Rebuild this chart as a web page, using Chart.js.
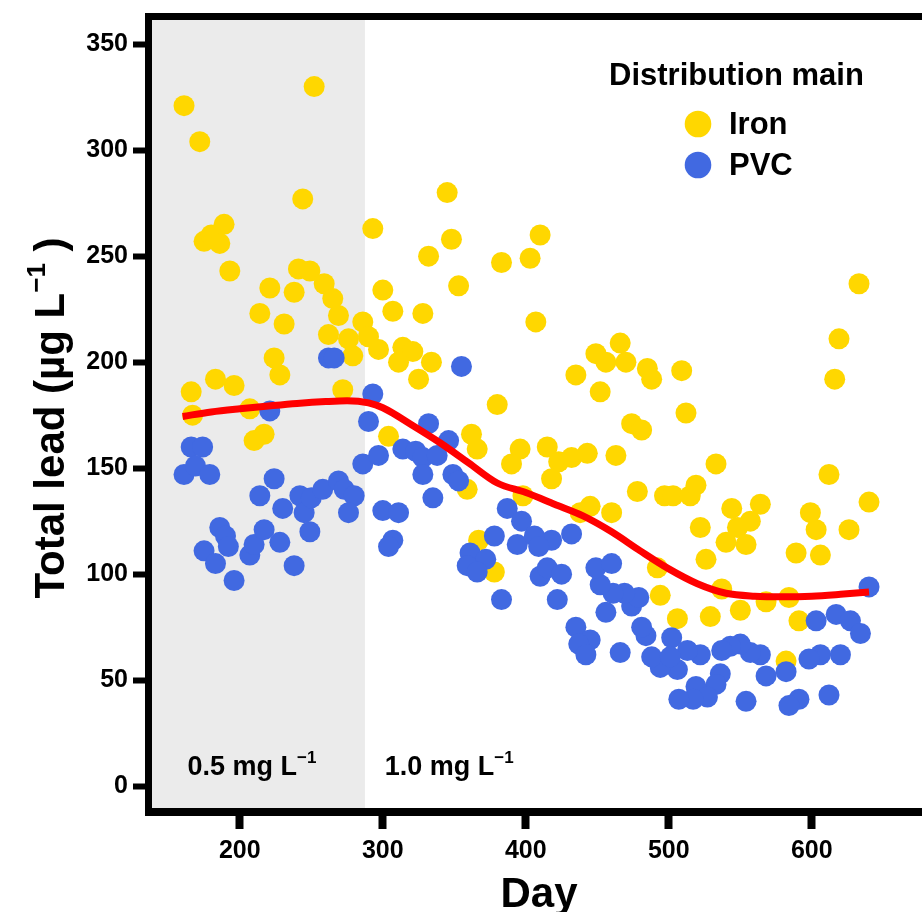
<!DOCTYPE html>
<html>
<head>
<meta charset="utf-8">
<script src="https://cdn.jsdelivr.net/npm/chart.js@4.4.1/dist/chart.umd.min.js"></script>
<style>
  html, body { margin: 0; padding: 0; background: #fff; }
  #leadChart { display: block; }
</style>
</head>
<body>
<canvas id="leadChart" width="922" height="912"></canvas>
<script>
// values (day, total lead in ug/L)
const ironDay = [161, 252, 172, 244, 189, 175, 180, 186, 193, 293, 345, 348, 332, 383, 403, 410, 353, 241, 249, 259,
  265, 269, 221, 238, 214, 231, 300, 307, 328, 286, 262, 276, 290, 297, 279, 314, 321, 311, 334, 325,
  224, 228, 166, 183, 196, 272, 380, 407, 633, 619, 616, 449, 466, 456, 470, 435, 485, 488, 509, 452,
  512, 167, 207, 210, 217, 304, 362, 366, 396, 390, 359, 398, 367, 378, 474, 481, 415, 423, 432, 443,
  463, 418, 533, 612, 640, 478, 497, 503, 515, 519, 544, 564, 557, 548, 540, 554, 599, 603, 626, 589,
  606, 522, 526, 445, 438, 460, 492, 537, 494, 506, 529, 550, 568, 584, 591, 582];
const ironLead = [321, 330, 304, 277, 265, 257, 260, 256, 243, 263, 280, 258, 250, 247, 249, 260, 236, 244, 243, 237,
  230, 222, 235, 233, 223, 218, 234, 224, 223, 219, 213, 211, 212, 206, 203, 207, 205, 200, 200, 192,
  202, 194, 186, 192, 189, 187, 180, 219, 237, 211, 192, 204, 209, 200, 200, 194, 197, 192, 196, 186,
  176, 175, 178, 163, 166, 165, 166, 159, 159, 152, 140, 137, 116, 101, 171, 168, 160, 153, 155, 157,
  156, 145, 152, 147, 134, 139, 137, 137, 137, 142, 131, 133, 125, 122, 115, 114, 129, 121, 121, 110,
  109, 122, 107, 132, 129, 129, 103, 93, 90, 79, 80, 83, 87, 89, 78, 59];

const pvcDay = [262, 266, 293, 355, 221, 166, 174, 161, 169, 179, 224, 214, 230, 242, 245, 250, 258, 269, 273, 280,
  276, 249, 186, 190, 192, 175, 183, 196, 207, 210, 217, 228, 238, 290, 286, 297, 314, 323, 328, 332,
  346, 338, 328, 349, 353, 335, 300, 311, 307, 304, 387, 397, 378, 394, 361, 372, 359, 366, 383, 640,
  603, 617, 627, 634, 620, 606, 598, 612, 591, 584, 582, 568, 564, 557, 550, 543, 537, 554, 536, 533,
  519, 527, 517, 507, 522, 513, 502, 506, 494, 488, 501, 484, 481, 466, 456, 474, 479, 469, 461, 452,
  449, 460, 435, 445, 437, 442, 422, 410, 415, 425, 432, 418, 406, 409];
const pvcLead = [202, 202, 185, 198, 177, 160, 160, 147, 151, 147, 145, 137, 131, 137, 129, 136, 140, 144, 140, 137,
  129, 120, 122, 118, 113, 111, 105, 97, 109, 114, 121, 115, 104, 172, 152, 156, 159, 158, 155, 171,
  163, 156, 147, 147, 144, 136, 130, 129, 116, 113, 131, 125, 118, 114, 110, 107, 104, 101, 88, 94,
  78, 81, 78, 72, 62, 62, 60, 43, 41, 38, 54, 52, 62, 63, 67, 66, 64, 40, 53, 48,
  47, 42, 41, 41, 62, 64, 70, 55, 56, 61, 61, 71, 75, 63, 82, 85, 89, 91, 91, 95,
  103, 105, 75, 69, 67, 62, 88, 99, 103, 100, 119, 116, 118, 113];

// smoothed trend, sampled off the red curve
const smoothDay = [160, 180, 200, 220, 240, 260, 275, 290, 300, 320, 340, 360, 380, 400, 420, 440, 460, 480, 500, 520, 540, 560, 580, 600, 620, 640];
const smoothLead = [174.4, 176.5, 178, 179.3, 180.5, 181.4, 181.8, 180.8, 178.5, 170.5, 162, 152.5, 143, 138.5, 133, 127.5, 120, 111, 102.5, 95.5, 91, 89.6, 89.3, 89.6, 90.5, 91.6];

const xTicks = [200, 300, 400, 500, 600];
const yTicks = [0, 50, 100, 150, 200, 250, 300, 350];

// dose periods
const lowDoseEnd = 287.5;
const lowDoseLabelAt = 163.4;
const highDoseLabelAt = 301.4;
const doseLabelLead = 5.3;

const xMin = 138.6, xMax = 669.7;
const yMin = -10.3, yMax = 361.4;

const FONT = "'Liberation Sans', Arial, Helvetica, sans-serif";
const IRON_COLOR = '#ffd700';
const PVC_COLOR = '#4169e1';

function toPoints(xs, ys) {
  return xs.map((x, i) => ({ x: x, y: ys[i] }));
}

// writes a run of text pieces, some of them raised (superscript)
function drawParts(ctx, parts, x, y) {
  parts.forEach(p => {
    ctx.font = 'bold ' + p.size + 'px ' + FONT;
    ctx.fillText(p.text, x, y - (p.rise || 0));
    x += ctx.measureText(p.text).width;
  });
  return x;
}

function partsWidth(ctx, parts) {
  let w = 0;
  parts.forEach(p => {
    ctx.font = 'bold ' + p.size + 'px ' + FONT;
    w += ctx.measureText(p.text).width;
  });
  return w;
}

const decorPlugin = {
  id: 'decor',
  beforeDatasetsDraw(chart) {
    const { ctx, chartArea, scales } = chart;
    const xEnd = scales.x.getPixelForValue(lowDoseEnd);
    ctx.save();
    ctx.fillStyle = '#ebebeb';
    ctx.fillRect(chartArea.left, chartArea.top, xEnd - chartArea.left, chartArea.bottom - chartArea.top);
    ctx.restore();
  },
  afterDraw(chart) {
    const { ctx, chartArea, scales } = chart;
    const L = chartArea.left, T = chartArea.top, B = chartArea.bottom;
    ctx.save();

    // panel frame
    ctx.fillStyle = '#000';
    ctx.fillRect(L - 7, T - 7, 7, B + 8 - (T - 7));
    ctx.fillRect(L - 7, B, chart.width - L + 7, 8);
    ctx.fillRect(L - 7, T - 7, chart.width - L + 7, 7);

    // dose labels
    ctx.textBaseline = 'alphabetic';
    ctx.textAlign = 'left';
    const yLab = scales.y.getPixelForValue(doseLabelLead);
    drawParts(ctx, [{ text: '0.5 mg L', size: 27 }, { text: '\u22121', size: 17, rise: 12 }],
      scales.x.getPixelForValue(lowDoseLabelAt), yLab);
    drawParts(ctx, [{ text: '1.0 mg L', size: 27 }, { text: '\u22121', size: 17, rise: 12 }],
      scales.x.getPixelForValue(highDoseLabelAt), yLab);

    // x title
    ctx.font = 'bold 42px ' + FONT;
    ctx.textAlign = 'center';
    ctx.fillText('Day', (L + chart.width) / 2 + 2, 907);

    // y title, rotated
    const yTitle = [
      { text: 'Total lead (\u00b5g L', size: 42 },
      { text: '\u22121', size: 26, rise: 19 },
      { text: ' )', size: 42 }
    ];
    ctx.translate(64, 418);
    ctx.rotate(-Math.PI / 2);
    ctx.textAlign = 'left';
    drawParts(ctx, yTitle, -partsWidth(ctx, yTitle) / 2, 0);
    ctx.setTransform(1, 0, 0, 1, 0, 0);

    // legend
    ctx.font = 'bold 31px ' + FONT;
    ctx.textAlign = 'left';
    ctx.textBaseline = 'alphabetic';
    ctx.fillText('Distribution main', 609, 85);
    const items = [['Iron', IRON_COLOR, 124], ['PVC', PVC_COLOR, 165]];
    items.forEach(it => {
      ctx.fillStyle = it[1];
      ctx.beginPath();
      ctx.arc(698, it[2], 13.3, 0, Math.PI * 2);
      ctx.fill();
      ctx.fillStyle = '#000';
      ctx.textBaseline = 'middle';
      ctx.font = 'bold 31px ' + FONT;
      ctx.fillText(it[0], 729, it[2] + 1);
    });
    ctx.restore();
  }
};

const tickFont = { family: FONT, size: 25, weight: 'bold' };

const chart = new Chart(document.getElementById('leadChart').getContext('2d'), {
  type: 'scatter',
  data: {
    datasets: [
      {
        type: 'line',
        label: 'trend',
        data: toPoints(smoothDay, smoothLead),
        borderColor: '#ff0000',
        borderWidth: 7,
        pointRadius: 0,
        cubicInterpolationMode: 'monotone',
        fill: false,
        order: 0
      },
      {
        label: 'PVC',
        data: toPoints(pvcDay, pvcLead),
        backgroundColor: PVC_COLOR,
        pointRadius: 10.5,
        borderWidth: 0,
        order: 1
      },
      {
        label: 'Iron',
        data: toPoints(ironDay, ironLead),
        backgroundColor: IRON_COLOR,
        pointRadius: 10.5,
        borderWidth: 0,
        order: 2
      }
    ]
  },
  options: {
    responsive: false,
    animation: false,
    layout: { padding: { top: 19, right: 0, left: 0, bottom: 0 } },
    plugins: {
      legend: { display: false },
      tooltip: { enabled: false }
    },
    scales: {
      x: {
        type: 'linear',
        min: xMin,
        max: xMax,
        afterBuildTicks: s => { s.ticks = xTicks.map(v => ({ value: v })); },
        afterFit: s => { s.height = 104; },
        grid: { drawOnChartArea: false, tickLength: 21, tickWidth: 8, tickColor: '#000' },
        border: { display: false },
        ticks: { color: '#000', font: tickFont, padding: 7, maxRotation: 0 }
      },
      y: {
        type: 'linear',
        min: yMin,
        max: yMax,
        afterBuildTicks: s => { s.ticks = yTicks.map(v => ({ value: v })); },
        afterFit: s => { s.width = 152; },
        grid: { drawOnChartArea: false, tickLength: 19, tickWidth: 6, tickColor: '#000' },
        border: { display: false },
        ticks: { color: '#000', font: tickFont, padding: 5 }
      }
    }
  },
  plugins: [decorPlugin]
});
</script>
</body>
</html>
